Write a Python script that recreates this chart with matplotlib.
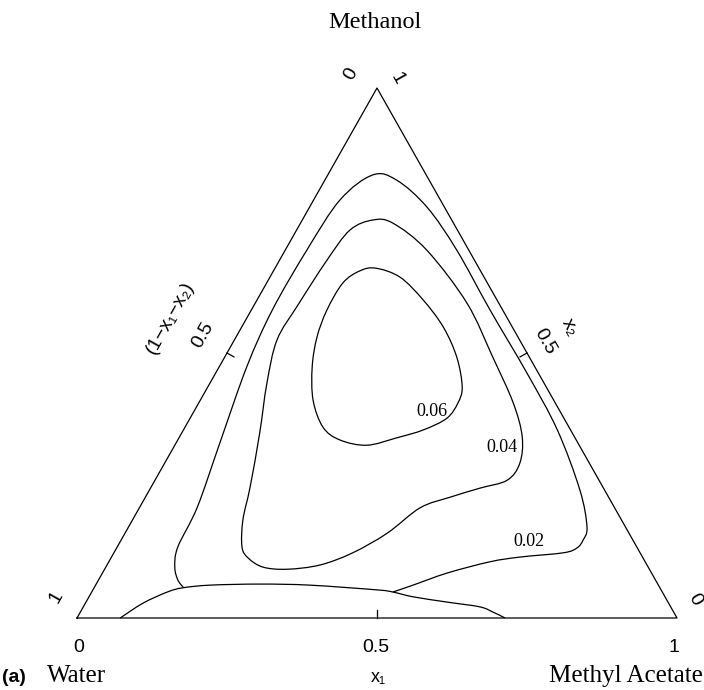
import numpy as np
import matplotlib
matplotlib.use('Agg')
import matplotlib.pyplot as plt
from matplotlib.path import Path
from matplotlib.patches import PathPatch

# Konture v sestavi (x1 = metil acetat, x2 = metanol), odcitane s slike
c06_x1 = [0.168, 0.217, 0.277, 0.336, 0.387, 0.424, 0.432, 0.428, 0.400, 0.363,
          0.320, 0.270, 0.230, 0.188, 0.155, 0.135, 0.126, 0.127, 0.144]
c06_x2 = [0.660, 0.643, 0.600, 0.549, 0.492, 0.436, 0.406, 0.377, 0.355, 0.340,
          0.326, 0.336, 0.360, 0.411, 0.474, 0.530, 0.581, 0.632, 0.655]

c04_x1 = [0.118, 0.154, 0.236, 0.353, 0.447, 0.524, 0.571, 0.592, 0.587, 0.549,
          0.508, 0.468, 0.437, 0.398, 0.355, 0.304, 0.262, 0.229, 0.208,
          0.184, 0.165, 0.130, 0.095, 0.071, 0.073, 0.079, 0.089]
c04_x2 = [0.751, 0.745, 0.694, 0.594, 0.492, 0.406, 0.342, 0.292, 0.260, 0.245,
          0.228, 0.208, 0.160, 0.123, 0.100, 0.092, 0.096, 0.113, 0.134,
          0.185, 0.247, 0.349, 0.443, 0.525, 0.591, 0.675, 0.732]

c02_x1 = [0.148, 0.132, 0.115, 0.101, 0.096, 0.073, 0.046, 0.035, 0.036, 0.044,
          0.075, 0.120, 0.196, 0.286, 0.398, 0.519, 0.623, 0.717, 0.764, 0.770,
          0.767, 0.749, 0.681, 0.635, 0.575, 0.529, 0.502]
c02_x2 = [0.058, 0.072, 0.096, 0.134, 0.209, 0.330, 0.474, 0.581, 0.694, 0.789,
          0.836, 0.826, 0.775, 0.694, 0.581, 0.462, 0.355, 0.242, 0.172, 0.147,
          0.132, 0.123, 0.115, 0.106, 0.085, 0.062, 0.049]

dno_x1 = [0.072, 0.096, 0.126, 0.148, 0.191, 0.273, 0.357, 0.474, 0.502, 0.540,
          0.602, 0.661, 0.688, 0.709, 0.713]
dno_x2 = [0.000, 0.028, 0.049, 0.057, 0.062, 0.064, 0.062, 0.053, 0.049, 0.040,
          0.030, 0.021, 0.011, 0.002, 0.000]

# (x1, x2, zaprta)
konture = [(c06_x1, c06_x2, True), (c04_x1, c04_x2, True),
           (c02_x1, c02_x2, False), (dno_x1, dno_x2, False)]
oznake = ['0.06', '0.04', '0.02']
oznake_pos = [(432, 411), (502, 448), (529, 542)]

# pikslov na enoto
SX, SY = 600.0, 530.0
X0, Y0 = 77.0, 618.0


def v_xy(x1, x2):
    '''sestava -> kartezicne koordinate'''
    x1 = np.asarray(x1, dtype=float)
    x2 = np.asarray(x2, dtype=float)
    return x1 + x2 / 2, x2


def px(x, y):
    '''piksel -> koordinate osi'''
    return (x - X0) / SX, (Y0 - y) / SY


def gladka_pot(x, y, zaprta):
    '''Catmull-Rom krivulja skozi tocke kot Bezierjeva pot'''
    p = np.column_stack([x * SX, y * SY])
    n = len(p)
    if zaprta:
        p = np.vstack([p, p[:1]])
        prej = lambda i: p[(i - 1) % n]
        potem = lambda i: p[(i + 2) % n]
    else:
        prej = lambda i: p[max(i - 1, 0)]
        potem = lambda i: p[min(i + 2, n - 1)]
    verts = [p[0]]
    codes = [Path.MOVETO]
    for i in range(len(p) - 1):
        a, b = p[i], p[i + 1]
        c1 = a + (b - prej(i)) / 6.0
        c2 = b - (potem(i) - a) / 6.0
        verts += [c1, c2, b]
        codes += [Path.CURVE4] * 3
    verts = np.array(verts) / [SX, SY]
    return Path(verts, codes)


fig = plt.figure(figsize=(7.04, 6.9), dpi=100)
ax = fig.add_axes([0, 0, 1, 1])
ax.set_xlim(-X0 / SX, (704 - X0) / SX)
ax.set_ylim((Y0 - 690) / SY, Y0 / SY)
ax.axis('off')

lw = 0.9
# trikotnik
tx, ty = v_xy([0, 1, 0, 0], [0, 0, 1, 0])
ax.plot(tx, ty, color='black', lw=lw)

# kljukice na sredini stranic
d = 8.0
ax.plot([0.5, 0.5], [0, d / SY], color='black', lw=lw)
nx, ny = 530 / 608.0, 298 / 608.0
mx, my = v_xy(0, 0.5)
ax.plot([mx, mx + d * nx / SX], [my, my - d * ny / SY], color='black', lw=lw)
mx, my = v_xy(0.5, 0.5)
ax.plot([mx, mx - d * nx / SX], [my, my - d * ny / SY], color='black', lw=lw)

for k1, k2, zaprta in konture:
    x, y = v_xy(k1, k2)
    ax.add_patch(PathPatch(gladka_pot(x, y, zaprta), fill=False,
                           edgecolor='black', lw=lw))

serif = 'Liberation Serif'
sans = 'Liberation Sans'

for besedilo, (a, b) in zip(oznake, oznake_pos):
    ax.text(*px(a, b), besedilo, family=serif, fontsize=13, ha='center', va='center')

ax.text(*px(375, 22), 'Methanol', family=serif, fontsize=17.5, ha='center', va='center')

rot = 60.6
fs = 14
ax.text(*px(351, 74), '0', family=sans, fontsize=fs, rotation=rot, ha='center', va='center')
ax.text(*px(397, 79), '1', family=sans, fontsize=fs, rotation=-rot, ha='center', va='center')
ax.text(*px(56, 597), '1', family=sans, fontsize=fs, rotation=rot, ha='center', va='center')
ax.text(*px(695, 600), '0', family=sans, fontsize=fs, rotation=-rot, ha='center', va='center')
ax.text(*px(203, 335), '0.5', family=sans, fontsize=fs, rotation=rot, ha='center', va='center')
ax.text(*px(170, 318), '(1\u2212x\u2081\u2212x\u2082)', family=sans, fontsize=fs,
        rotation=rot, ha='center', va='center')
ax.text(*px(545, 342), '0.5', family=sans, fontsize=fs, rotation=-rot, ha='center', va='center')
ax.text(*px(570, 327), 'x\u2082', family=sans, fontsize=fs, rotation=-rot, ha='center', va='center')

for a, besedilo in [(79, '0'), (376, '0.5'), (674, '1')]:
    ax.text(*px(a, 648), besedilo, family=sans, fontsize=fs, ha='center', va='center')

ax.text(*px(2, 677), '(a)', family=sans, fontsize=14, weight='bold', ha='left', va='center')
ax.text(*px(77, 676), 'Water', family=serif, fontsize=18, ha='center', va='center')
ax.text(*px(378, 678), 'x\u2081', family=sans, fontsize=13, ha='center', va='center')
ax.text(*px(703, 676), 'Methyl Acetate', family=serif, fontsize=18, ha='right', va='center')

fig.savefig('out.png', dpi=100)
